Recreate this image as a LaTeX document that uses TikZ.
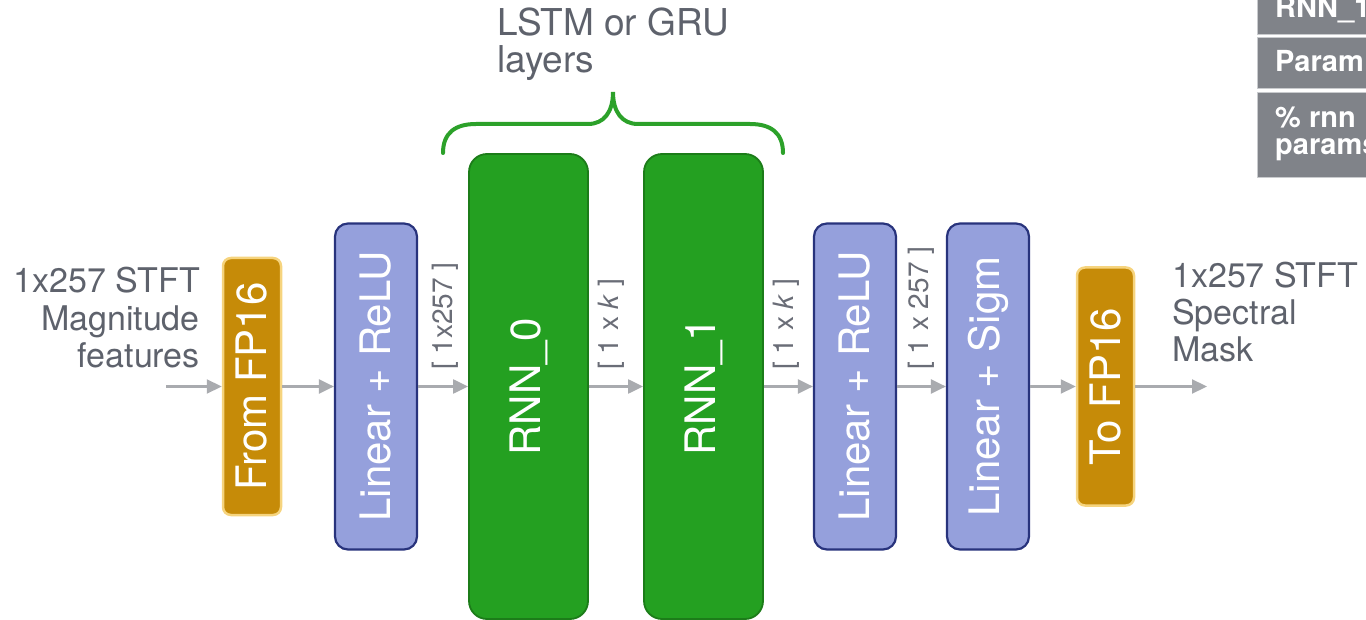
\documentclass[tikz,border=0pt]{standalone}
\usepackage{fontspec}
\setmainfont{TeX Gyre Heros}
\usetikzlibrary{arrows.meta}

\definecolor{fpfill}{HTML}{C68B08}
\definecolor{fpdraw}{HTML}{F6D47E}
\definecolor{linfill}{HTML}{95A0DC}
\definecolor{lindraw}{HTML}{28337C}
\definecolor{rnnfill}{HTML}{24A021}
\definecolor{rnndraw}{HTML}{1C7C19}
\definecolor{bracegreen}{HTML}{2CA12A}
\definecolor{arrowgray}{HTML}{A9ABAF}
\definecolor{labelgray}{HTML}{5E626C}
\definecolor{dimgray}{HTML}{6A6D77}
\definecolor{tablegray}{HTML}{808389}
\definecolor{tableedge}{HTML}{C9CBCE}

\begin{document}
\begin{tikzpicture}[x=1pt,y=-1pt,
  blockfont/.style={font=\fontsize{42}{48}\selectfont},
  fpbox/.style={draw=fpdraw, fill=fpfill, line width=2.5pt, rounded corners=8pt,
    text=white, inner sep=0pt, blockfont},
  linbox/.style={draw=lindraw, fill=linfill, line width=2.2pt, rounded corners=13pt,
    text=white, inner sep=0pt, minimum width=82pt, minimum height=326pt, blockfont},
  rnnbox/.style={draw=rnndraw, fill=rnnfill, line width=1.8pt, rounded corners=18pt,
    text=white, inner sep=0pt, minimum width=119pt, minimum height=465pt, blockfont},
  flow/.style={draw=arrowgray, line width=2.2pt, -{Triangle[length=15pt,width=14pt]}},
  dimlabel/.style={text=dimgray, font=\fontsize{28}{30}\selectfont, rotate=90,
    anchor=west, inner sep=0pt},
  iolabel/.style={text=labelgray, font=\fontsize{34}{38}\selectfont, inner sep=0pt},
  toplabel/.style={text=labelgray, font=\fontsize{37}{40}\selectfont, inner sep=0pt,
    anchor=base west},
  cellbox/.style={fill=tablegray, draw=tableedge, line width=1pt},
  celltext/.style={text=white, font=\fontsize{29}{30}\selectfont\bfseries,
    inner sep=0pt, anchor=base west},
  bracestroke/.style={draw=bracegreen, line width=4pt}
]
\useasboundingbox (0,0) rectangle (1366,620);
\clip (0,0) rectangle (1366,620);

% processing blocks
\node[fpbox, minimum width=58pt, minimum height=257pt] (fromfp) at (252,386.5)
  {\rotatebox{90}{From FP16}};
\node[linbox] (lin1) at (376,386.5) {\rotatebox{90}{Linear + ReLU}};
\node[rnnbox] (rnn0) at (528.5,386.5) {\rotatebox{90}{RNN\_0}};
\node[rnnbox] (rnn1) at (703.5,386.5) {\rotatebox{90}{RNN\_1}};
\node[linbox] (lin2) at (855,386.5) {\rotatebox{90}{Linear + ReLU}};
\node[linbox] (lin3) at (988,386.5) {\rotatebox{90}{Linear + Sigm}};
\node[fpbox, minimum width=57pt, minimum height=238pt] (tofp) at (1105.5,386.5)
  {\rotatebox{90}{To FP16}};

% data flow
\coordinate (src) at (166,386.5);
\coordinate (dst) at (1207,386.5);
\draw[flow] (src) -- (fromfp.west);
\draw[flow] (fromfp.east) -- (lin1.west);
\draw[flow] (lin1.east) -- (rnn0.west);
\draw[flow] (rnn0.east) -- (rnn1.west);
\draw[flow] (rnn1.east) -- (lin2.west);
\draw[flow] (lin2.east) -- (lin3.west);
\draw[flow] (lin3.east) -- (tofp.west);
\draw[flow] (tofp.east) -- (dst);

% tensor shapes
\node[dimlabel] (shape0) at (445,370) {[ 1x257 ]};
\node[dimlabel] (shape1) at (611,370) {[ 1 x \textit{k} ]};
\node[dimlabel] (shape2) at (786,370) {[ 1 x \textit{k} ]};
\node[dimlabel] (shape3) at (921,370) {[ 1 x 257 ]};

% input / output descriptions
\node[iolabel, anchor=base east] (inA) at (200,293) {1x257 STFT};
\node[iolabel, anchor=base east] (inB) at (200,331) {Magnitude};
\node[iolabel, anchor=base east] (inC) at (200,368) {features};
\node[iolabel, anchor=base west] (outA) at (1172,288) {1x257 STFT};
\node[iolabel, anchor=base west] (outB) at (1172,325) {Spectral};
\node[iolabel, anchor=base west] (outC) at (1172,362) {Mask};

% recurrent group brace
\draw[bracestroke, line cap=round]
  (443,153) .. controls (443,133) and (455,124) .. (476,124)
  -- (588,124) .. controls (604,124) and (613,112) .. (613,92)
  .. controls (613,112) and (622,124) .. (638,124)
  -- (750,124) .. controls (771,124) and (783,133) .. (783,153);
\node[toplabel] (grpA) at (497,36) {LSTM or GRU};
\node[toplabel] (grpB) at (497,73) {layers};

% parameter table
\path[cellbox] (1257,-5) rectangle (1400,35);
\path[cellbox] (1257,38) rectangle (1400,89);
\path[cellbox] (1257,93) rectangle (1400,178);
\node[celltext] (cellA) at (1275,18) {RNN\_1};
\node[celltext] (cellB) at (1275,72) {Param};
\node[celltext] (cellC) at (1275,128) {\% rnn};
\node[celltext] (cellD) at (1275,155) {params};
\end{tikzpicture}
\end{document}
